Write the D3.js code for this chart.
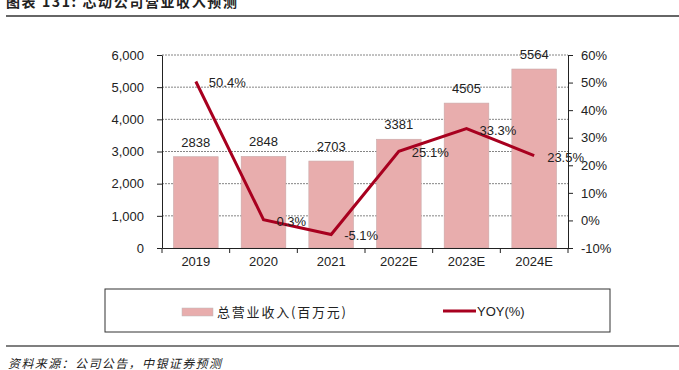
<!DOCTYPE html>
<html>
<head>
<meta charset="utf-8">
<script src="https://cdn.jsdelivr.net/npm/d3@7"></script>
<style>
  body { margin: 0; background: #fff; }
  svg text { font-family: "Liberation Sans", Arial, sans-serif; fill: #222; }
  .cjk { font-family: "Noto Sans CJK SC", sans-serif; }
</style>
</head>
<body>
<div id="chart"></div>
<script>
// data
var years = ['2019', '2020', '2021', '2022E', '2023E', '2024E'];
var revenue = [2838, 2848, 2703, 3381, 4505, 5564];
var yoy = [50.4, 0.3, -5.1, 25.1, 33.3, 23.5];
var leftTicks = [0, 1000, 2000, 3000, 4000, 5000, 6000];
var rightTicks = [-10, 0, 10, 20, 30, 40, 50, 60];

var fullWidth = 679, fullHeight = 370;
var plot = {left: 162, right: 568, top: 55, bottom: 248};
var barColor = '#e8adad', lineColor = '#a8001f';

var svg = d3.select('#chart').append('svg')
  .attr('width', fullWidth)
  .attr('height', fullHeight);

// title (cut off at the top like the source) and rules
svg.append('text').attr('class', 'cjk')
  .attr('x', 6).attr('y', 7)
  .attr('font-size', 14).attr('font-weight', 'bold')
  .attr('letter-spacing', 1.6)
  .text('图表 131: 芯动公司营业收入预测');
svg.append('line').attr('x1', 6).attr('x2', 679).attr('y1', 16).attr('y2', 16)
  .attr('stroke', '#333').attr('stroke-width', 1.5);
svg.append('line').attr('x1', 6).attr('x2', 679).attr('y1', 346).attr('y2', 346)
  .attr('stroke', '#555').attr('stroke-width', 1.5);
svg.append('text').attr('class', 'cjk')
  .attr('x', 8).attr('y', 368)
  .attr('font-size', 12).attr('font-style', 'italic')
  .attr('letter-spacing', 1.4)
  .text('资料来源：公司公告，中银证券预测');

// scales
var x = d3.scaleBand().domain(years).range([plot.left, plot.right]).paddingInner(0.34).paddingOuter(0.17);
var xb = d3.scaleBand().domain(years).range([plot.left, plot.right]);
var yL = d3.scaleLinear().domain([0, 6000]).range([plot.bottom, plot.top]);
var yR = d3.scaleLinear().domain([-10, 60]).range([plot.bottom, plot.top]);

// gridlines
svg.append('g').selectAll('line').data(leftTicks.slice(1)).join('line')
  .attr('x1', plot.left).attr('x2', plot.right)
  .attr('y1', function(d) { return yL(d); }).attr('y2', function(d) { return yL(d); })
  .attr('stroke', '#666').attr('stroke-width', 0.8).attr('stroke-dasharray', '2,1');

// bars
svg.append('g').selectAll('rect').data(revenue).join('rect')
  .attr('x', function(d, i) { return x(years[i]); })
  .attr('width', x.bandwidth())
  .attr('y', function(d) { return yL(d); })
  .attr('height', function(d) { return yL(0) - yL(d); })
  .attr('fill', barColor)
  .attr('stroke', '#c9a9a9').attr('stroke-width', 0.6);

svg.append('g').selectAll('text').data(revenue).join('text')
  .attr('x', function(d, i) { return x(years[i]) + x.bandwidth() / 2; })
  .attr('y', function(d) { return yL(d) - 10; })
  .attr('text-anchor', 'middle').attr('font-size', 13)
  .text(function(d) { return d; });

// axes
var xAxis = d3.axisBottom(xb).tickSize(0).tickPadding(9);
var gx = svg.append('g').attr('transform', 'translate(0,' + plot.bottom + ')').call(xAxis);
gx.select('.domain').attr('stroke', '#222');
gx.selectAll('text').attr('font-size', 13).attr('font-family', '"Liberation Sans", Arial, sans-serif').attr('fill', '#222');
gx.selectAll('.tb').data(years.concat(['end'])).join('line')
  .attr('x1', function(d, i) { return plot.left + i * xb.step(); })
  .attr('x2', function(d, i) { return plot.left + i * xb.step(); })
  .attr('y1', 0).attr('y2', 5).attr('stroke', '#222');

var gl = svg.append('g').attr('transform', 'translate(' + plot.left + ',0)')
  .call(d3.axisLeft(yL).tickValues(leftTicks).tickSize(5).tickPadding(13).tickFormat(d3.format(',')).tickSizeOuter(0));
gl.selectAll('text').attr('font-size', 13).attr('font-family', '"Liberation Sans", Arial, sans-serif').attr('fill', '#222');
gl.selectAll('line, path').attr('stroke', '#222');

var gr = svg.append('g').attr('transform', 'translate(' + plot.right + ',0)')
  .call(d3.axisRight(yR).tickValues(rightTicks).tickSize(5).tickPadding(8).tickFormat(function(d) { return d + '%'; }).tickSizeOuter(0));
gr.selectAll('text').attr('font-size', 13).attr('font-family', '"Liberation Sans", Arial, sans-serif').attr('fill', '#222');
gr.selectAll('line, path').attr('stroke', '#222');

// yoy line
var line = d3.line()
  .x(function(d, i) { return xb(years[i]) + xb.bandwidth() / 2; })
  .y(function(d) { return yR(d); });
svg.append('path').datum(yoy)
  .attr('d', line)
  .attr('fill', 'none').attr('stroke', lineColor).attr('stroke-width', 3);

svg.append('g').selectAll('text').data(yoy).join('text')
  .attr('x', function(d, i) { return xb(years[i]) + xb.bandwidth() / 2 + 13; })
  .attr('y', function(d) { return yR(d) + 6; })
  .attr('font-size', 13)
  .text(function(d) { return d.toFixed(1) + '%'; });

// legend
var lg = svg.append('g');
lg.append('rect').attr('x', 105).attr('y', 289).attr('width', 505).attr('height', 43)
  .attr('fill', 'none').attr('stroke', '#333').attr('stroke-width', 1);
lg.append('rect').attr('x', 182).attr('y', 308).attr('width', 31).attr('height', 8)
  .attr('fill', barColor).attr('stroke', '#bbb').attr('stroke-width', 0.5);
lg.append('text').attr('class', 'cjk').attr('x', 217).attr('y', 317).attr('font-size', 13)
  .attr('letter-spacing', 1.8)
  .text('总营业收入(百万元)');
lg.append('line').attr('x1', 443).attr('x2', 476).attr('y1', 311).attr('y2', 311)
  .attr('stroke', lineColor).attr('stroke-width', 3);
lg.append('text').attr('x', 477).attr('y', 316).attr('font-size', 13)
  .text('YOY(%)');
</script>
</body>
</html>
